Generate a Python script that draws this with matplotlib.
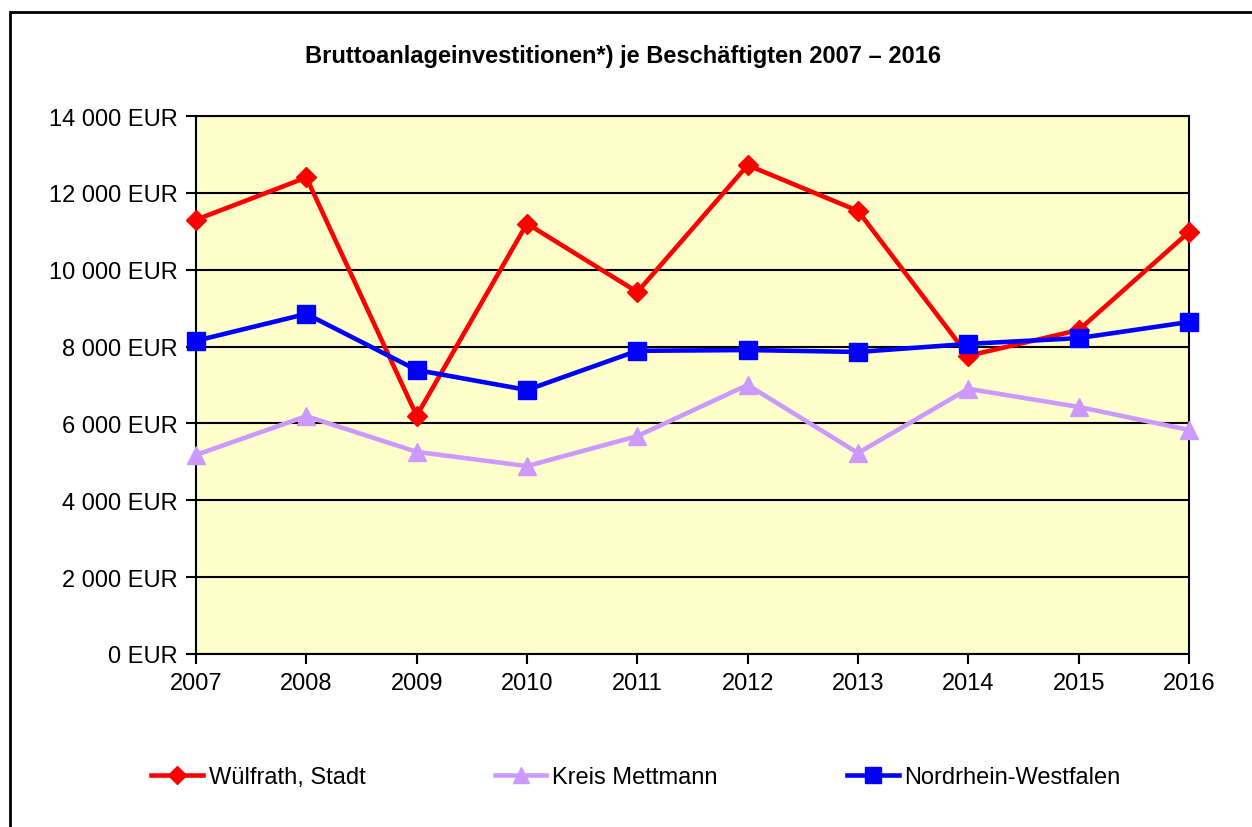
import matplotlib
matplotlib.use("Agg")
import matplotlib.pyplot as plt
from matplotlib.patches import Rectangle
from matplotlib.ticker import FuncFormatter

plt.rcParams['font.family'] = ['Liberation Sans', 'DejaVu Sans']

# Data
years = [2007, 2008, 2009, 2010, 2011, 2012, 2013, 2014, 2015, 2016]
wuelfrath = [11300, 12400, 6200, 11200, 9420, 12720, 11530, 7760, 8430, 10980]
mettmann = [5180, 6190, 5260, 4890, 5670, 7000, 5230, 6900, 6430, 5830]
nrw = [8150, 8850, 7390, 6870, 7890, 7910, 7860, 8070, 8220, 8640]

title = "Bruttoanlageinvestitionen*) je Beschäftigten 2007 – 2016"

fig = plt.figure(figsize=(12.52, 8.28), dpi=100)
ax = fig.add_axes([196/1252, 1 - 655/828, (1189 - 196)/1252, (655 - 117)/828])
ax.set_facecolor('#FFFFCC')

ax.plot(years, wuelfrath, color='#FF0000', lw=3.3, marker='D', ms=10.5,
        label='Wülfrath, Stadt', zorder=3, clip_on=False)
ax.plot(years, mettmann, color='#CC99FF', lw=3.3, marker='^', ms=13,
        label='Kreis Mettmann', zorder=3, clip_on=False)
ax.plot(years, nrw, color='#0000FF', lw=3.3, marker='s', ms=13,
        label='Nordrhein-Westfalen', zorder=4, clip_on=False)

ax.set_xlim(2007, 2016)
ax.set_ylim(0, 14000)
ax.set_xticks(years)
ax.set_yticks(range(0, 14001, 2000))
ax.yaxis.set_major_formatter(FuncFormatter(
    lambda v, p: f"{int(v):,} EUR".replace(",", " ")))
ax.grid(axis='y', color='black', lw=1.5)
ax.set_axisbelow(True)
for s in ax.spines.values():
    s.set_linewidth(1.5)
ax.tick_params(labelsize=17, length=7, width=1.5, direction='out', pad=6)

fig.text(623/1252, 1 - 57/828, title, ha='center', va='center',
         fontsize=17, fontweight='bold')

fig.legend(loc='center left', bbox_to_anchor=(130/1252, 1 - 778/828),
           ncol=3, frameon=False, fontsize=17, handlelength=2.2,
           handletextpad=0.25, columnspacing=5.45, markerscale=0.85)

# outer frame (only left and top edges visible)
fig.patches.append(Rectangle((10/1252, -0.2), 1.5, 1.2 - 13/828,
                             transform=fig.transFigure, fill=False,
                             edgecolor='black', lw=2))

fig.savefig('out.png', dpi=100)
